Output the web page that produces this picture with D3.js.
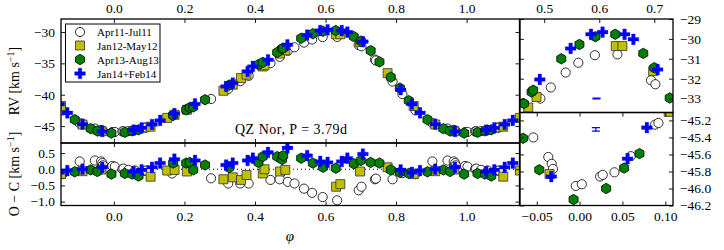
<!DOCTYPE html>
<html><head><meta charset="utf-8">
<script src="https://cdn.jsdelivr.net/npm/d3@7"></script>
<style>
body{margin:0;background:#fff}
svg{display:block}
text{font-family:"Liberation Serif","Times New Roman",serif;fill:#000}
</style>
</head><body>
<svg id="c" width="724" height="250"></svg>
<script>
// ---------- DATA (phase in [0,1), RV in km/s, O-C in km/s) ----------
const seriesNames = ["Apr11-Jul11", "Jan12-May12", "Apr13-Aug13", "Jan14+Feb14"];

const phaseApr11 = [0.165,0.2755,0.324,0.358,0.382,0.444,0.470,0.493,0.512,0.539,0.562,0.592,0.633,0.694,0.702,0.740,0.743,0.790,0.818,0.855,0.903,0.946,0.9635,0.9675,0.969,0.9956,0.0026,0.024,0.027,0.0407,0.0598,0.088,0.092];
const rvApr11    = [-43.35,-40.68,-39.1,-37.85,-37.0,-34.97,-33.95,-33.0,-32.44,-31.69,-31.2,-30.82,-30.78,-32.08,-32.28,-34.4,-34.55,-37.9,-39.9,-42.5,-44.55,-45.40,-45.63,-45.71,-45.77,-45.97,-45.95,-45.86,-45.84,-45.81,-45.62,-45.25,-45.23];
const ocApr11    = [-0.13,-0.28,-0.44,-0.44,-0.44,-0.33,-0.31,-0.39,-0.44,-0.60,-0.73,-0.86,-0.96,-0.65,-0.54,-0.31,-0.29,-0.31,-0.12,-0.15,0.24,0.27,0.24,0.19,0.12,0.10,0.08,0.0,0.02,-0.02,-0.04,-0.05,-0.04];

const phaseJan12 = [0.104,0.151,0.172,0.207,0.3105,0.337,0.3605,0.376,0.422,0.427,0.471,0.486,0.630,0.642,0.698,0.776,0.850,0.911,0.965];
const rvJan12    = [-45.10,-43.7,-43.2,-42.4,-39.37,-38.4,-37.35,-36.8,-35.5,-35.3,-33.45,-32.92,-30.36,-30.36,-31.62,-36.56,-41.8,-44.75,-45.83];
const ocJan12    = [-0.23,-0.04,-0.02,-0.07,-0.31,-0.25,-0.33,-0.18,-0.13,0.0,-0.07,-0.02,-0.54,-0.46,-0.07,0.06,-0.15,-0.06,-0.01];

const phaseApr13 = [0.031,0.052,0.0699,0.168,0.205,0.215,0.225,0.2585,0.327,0.410,0.422,0.463,0.477,0.480,0.531,0.564,0.593,0.629,0.680,0.700,0.728,0.753,0.785,0.811,0.836,0.889,0.934,0.953,0.993];
const rvApr13    = [-46.00,-45.76,-45.59,-43.3,-42.4,-42.05,-41.95,-40.8,-38.5,-35.2,-34.85,-33.25,-32.67,-32.58,-31.0,-30.28,-29.89,-29.77,-30.73,-31.45,-32.97,-34.76,-37.2,-38.95,-40.95,-43.97,-45.41,-45.78,-46.13];
const ocApr13    = [-0.13,-0.15,-0.21,0.19,0.19,0.21,-0.02,0.13,0.05,0.21,0.39,0.39,0.30,0.42,0.34,0.19,0.06,0.03,0.17,0.27,0.21,0.19,-0.02,-0.10,-0.13,-0.08,-0.02,-0.07,-0.15];

const phaseJan14 = [0.056,0.0785,0.108,0.131,0.1715,0.230,0.318,0.337,0.379,0.394,0.437,0.492,0.548,0.585,0.606,0.646,0.662,0.706,0.813,0.845,0.868,0.911,0.967];
const rvJan14    = [-45.65,-45.285,-44.75,-44.1,-43.0,-41.48,-38.68,-38.14,-36.3,-35.5,-34.44,-32.04,-30.48,-29.77,-29.66,-29.77,-30.02,-31.54,-39.2,-41.5,-42.9,-44.7,-45.86];
const ocJan14    = [-0.07,-0.02,0.06,0.19,0.31,0.27,0.13,0.19,0.27,0.34,0.52,0.66,0.42,0.24,0.21,0.24,0.34,0.47,-0.02,-0.10,-0.04,0.00,0.06];

// typical error bar shown in the two zoom panels
const errPhase = [0.595, 0.019];
const errRV    = [-33.0, -45.305];
const errSize  = [0.02, 0.02];

// tick values
const mainXTicks = [0.0, 0.2, 0.4, 0.6, 0.8, 1.0];
const mainYTicks = [-45, -40, -35, -30];
const ocYTicks   = [0.5, 0.0, -0.5, -1.0];
const maxXTicks  = [0.5, 0.6, 0.7];
const maxYTicks  = [-29, -30, -31, -32, -33];
const minXTicks  = [-0.05, 0.00, 0.05, 0.10];
const minYTicks  = [-45.2, -45.4, -45.6, -45.8, -46.0, -46.2];

const titleText = "QZ Nor, P = 3.79d";

// ---------- BUILD ----------
const seriesData = [
  {name: seriesNames[0], type: "circle", ph: phaseApr11, rv: rvApr11, oc: ocApr11},
  {name: seriesNames[1], type: "square", ph: phaseJan12, rv: rvJan12, oc: ocJan12},
  {name: seriesNames[2], type: "hex",    ph: phaseApr13, rv: rvApr13, oc: ocApr13},
  {name: seriesNames[3], type: "plus",   ph: phaseJan14, rv: rvJan14, oc: ocJan14}
];

const svg = d3.select("#c");
const FS = 13.5;

const xMain = d3.scaleLinear().domain([-0.15, 1.15]).range([61, 519.5]);
const yMain = d3.scaleLinear().domain([-47.7, -27.93]).range([143, 19]);
const yOc   = d3.scaleLinear().domain([-1.12, 0.81]).range([205.5, 143]);
const xMax  = d3.scaleLinear().domain([0.456, 0.734]).range([520, 673]);
const yMax  = d3.scaleLinear().domain([-33.7, -29]).range([112.5, 19]);
const xMin  = d3.scaleLinear().domain([-0.0695, 0.109]).range([520, 673]);
const yMin  = d3.scaleLinear().domain([-46.2, -45.107]).range([205.5, 112.5]);

function hexPath(r) {
  const pts = d3.range(6).map(i => {
    const a = Math.PI / 2 + i * Math.PI / 3;
    return [r * Math.cos(a), r * Math.sin(a)];
  });
  return "M" + pts.map(p => p[0].toFixed(2) + "," + p[1].toFixed(2)).join("L") + "Z";
}
const markerPath = {
  circle: d3.symbol(d3.symbolCircle, Math.PI * 4.6 * 4.6)(),
  square: d3.symbol(d3.symbolSquare, 9 * 9)(),
  hex: hexPath(5.2),
  plus: d3.symbol(d3.symbolCross, 64)()
};
const markerStyle = {
  circle: {fill: "#ffffff", stroke: "#000", sw: 0.8},
  square: {fill: "#bfbf00", stroke: "#333", sw: 0.8},
  hex:    {fill: "#008000", stroke: "#000", sw: 0.8},
  plus:   {fill: "#0000ff", stroke: "#0000ff", sw: 0.3}
};

const defs = svg.append("defs");
let clipId = 0;
function panel(x0, x1, y0, y1) {
  const id = "clip" + (clipId++);
  defs.append("clipPath").attr("id", id).append("rect")
    .attr("x", x0).attr("y", y0).attr("width", x1 - x0).attr("height", y1 - y0);
  return svg.append("g").attr("clip-path", `url(#${id})`);
}

function plotSeries(g, xs, ys, valKey, xdom) {
  seriesData.forEach(s => {
    const pts = [];
    s.ph.forEach((p, i) => {
      [-1, 0, 1].forEach(sh => {
        const ph = p + sh;
        if (ph >= xdom[0] - 0.02 && ph <= xdom[1] + 0.02) pts.push({ph: ph, v: s[valKey][i]});
      });
    });
    const st = markerStyle[s.type];
    g.selectAll(null).data(pts).enter().append("path")
      .attr("d", markerPath[s.type])
      .attr("transform", d => `translate(${xs(d.ph)},${ys(d.v)})`)
      .attr("fill", st.fill).attr("stroke", st.stroke).attr("stroke-width", st.sw);
  });
}

// main panel
const gMain = panel(61, 519.5, 19, 143);
plotSeries(gMain, xMain, yMain, "rv", xMain.domain());
// residual panel
const gOc = panel(61, 519.5, 143, 205.5);
gOc.append("line").attr("x1", 61).attr("x2", 519.5).attr("y1", yOc(0)).attr("y2", yOc(0))
  .attr("stroke", "#000").attr("stroke-width", 1).attr("stroke-dasharray", "1,3");
plotSeries(gOc, xMain, yOc, "oc", xMain.domain());
// zoom on maximum
const gMax = panel(520, 673, 19, 112.5);
plotSeries(gMax, xMax, yMax, "rv", xMax.domain());
// zoom on minimum
const gMin = panel(520, 673, 112.5, 205.5);
plotSeries(gMin, xMin, yMin, "rv", xMin.domain());

// error bars
function errBar(g, xs, ys, i) {
  const x = xs(errPhase[i]), yt = ys(errRV[i] + errSize[i]), yb = ys(errRV[i] - errSize[i]);
  const c = "#0000ff";
  g.append("line").attr("x1", x).attr("x2", x).attr("y1", yt).attr("y2", yb).attr("stroke", c).attr("stroke-width", 1.2);
  [yt, yb].forEach(y => g.append("line").attr("x1", x - 4).attr("x2", x + 4).attr("y1", y).attr("y2", y)
    .attr("stroke", c).attr("stroke-width", 1.2));
}
errBar(gMax, xMax, yMax, 0);
errBar(gMin, xMin, yMin, 1);

// frames
function frame(x0, x1, y0, y1) {
  svg.append("rect").attr("x", x0).attr("y", y0).attr("width", x1 - x0).attr("height", y1 - y0)
    .attr("fill", "none").attr("stroke", "#000").attr("stroke-width", 1.3);
}

// axes helper
function axis(gen, scale, ticks, fmt, tx, ty, labels, pad) {
  const a = gen(scale).tickValues(ticks).tickSize(-4).tickPadding(pad || 6)
    .tickFormat(labels ? fmt : () => "");
  const g = svg.append("g").attr("transform", `translate(${tx},${ty})`).call(a);
  g.select(".domain").remove();
  g.selectAll(".tick line").attr("stroke", "#000").attr("stroke-width", 0.9);
  g.selectAll("text").attr("font-size", FS).attr("font-family", "Liberation Serif, serif");
  return g;
}
const f1 = d3.format(".1f"), f0 = d3.format("d"), f2 = d3.format(".2f");

// main panel axes
axis(d3.axisTop, xMain, mainXTicks, f1, 0, 19, true, 6.5);
axis(d3.axisBottom, xMain, mainXTicks, f1, 0, 143, false);
axis(d3.axisLeft, yMain, mainYTicks, f0, 61, 0, true, 6);
axis(d3.axisRight, yMain, mainYTicks, f0, 519.5, 0, false);
// residual axes
axis(d3.axisTop, xMain, mainXTicks, f1, 0, 143, false);
axis(d3.axisBottom, xMain, mainXTicks, f1, 0, 205.5, true, 5.5);
axis(d3.axisLeft, yOc, ocYTicks, f1, 61, 0, true, 6);
axis(d3.axisRight, yOc, ocYTicks, f1, 519.5, 0, false);
// max zoom axes
axis(d3.axisTop, xMax, maxXTicks, f1, 0, 19, true, 6.5);
axis(d3.axisRight, yMax, maxYTicks, f0, 673, 0, true, 7);
axis(d3.axisLeft, yMax, maxYTicks, f0, 520, 0, false);
// min zoom axes
axis(d3.axisBottom, xMin, minXTicks, f2, 0, 205.5, true, 5.5);
axis(d3.axisTop, xMin, minXTicks, f2, 0, 112.5, false);
axis(d3.axisRight, yMin, minYTicks, f1, 673, 0, true, 7);
axis(d3.axisLeft, yMin, minYTicks, f1, 520, 0, false);

frame(61, 519.5, 19, 143);
frame(61, 519.5, 143, 205.5);
frame(520, 673, 19, 112.5);
frame(520, 673, 112.5, 205.5);

// title inside main panel
svg.append("text").attr("x", 291).attr("y", 134).attr("text-anchor", "middle")
  .attr("font-size", 14).attr("textLength", 112).attr("lengthAdjust", "spacing").text(titleText);

// axis labels
function yLabel(cy, main) {
  const t = svg.append("text").attr("transform", `translate(19,${cy}) rotate(-90)`)
    .attr("text-anchor", "middle").attr("font-size", 14);
  t.append("tspan").text(main + " [km s");
  t.append("tspan").attr("font-size", 10).attr("dy", -5).text("\u22121");
  t.append("tspan").attr("dy", 5).text("]");
}
yLabel(81, "RV");
yLabel(174, "O \u2212 C");
svg.append("text").attr("x", 290).attr("y", 241).attr("text-anchor", "middle")
  .attr("font-size", 15).attr("font-style", "italic").text("\u03c6");

// legend
const lg = svg.append("g");
lg.append("rect").attr("x", 65.5).attr("y", 24).attr("width", 94.5).attr("height", 58)
  .attr("fill", "#fff").attr("stroke", "#000").attr("stroke-width", 1);
const rowY = [32, 45.5, 59.5, 73.5];
seriesData.forEach((s, i) => {
  const st = markerStyle[s.type];
  lg.append("path").attr("d", markerPath[s.type]).attr("transform", `translate(80,${rowY[i]})`)
    .attr("fill", st.fill).attr("stroke", st.stroke).attr("stroke-width", st.sw);
  lg.append("text").attr("x", 97).attr("y", rowY[i] + 4).attr("font-size", 11).text(s.name);
});
</script>
</body></html>
